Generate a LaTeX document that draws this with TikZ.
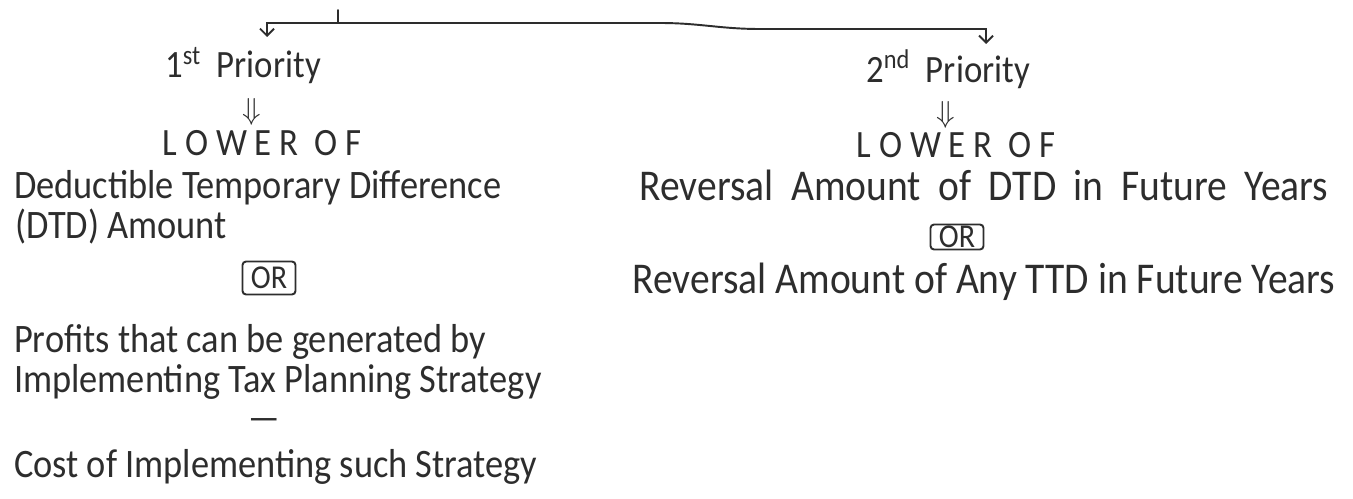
\documentclass[tikz,border=0pt]{standalone}
\usepackage{fontspec}
\setmainfont[FakeStretch=0.9]{Carlito}
\usepackage{tikz}
\usetikzlibrary{arrows.meta,positioning,calc}
\usepackage{xcolor}
\definecolor{penink}{RGB}{45,45,45}

\begin{document}
\begin{tikzpicture}[
    every node/.style={font=\fontsize{22}{24}\selectfont, text=penink, inner sep=1pt},
    lefttext/.style={anchor=base west, font=\fontsize{23}{25}\selectfont},
    revtext/.style={anchor=base, font=\fontsize{25}{27}\selectfont},
    pen/.style={draw=penink, line width=1.1pt, line cap=round},
    arr/.style={pen, -{Straight Barb[length=4pt,width=8pt]}},
    orbox/.style={draw=penink, line width=1.1pt, rounded corners=2pt,
      font=\fontsize{19}{19}\selectfont, minimum width=1.06cm, minimum height=0.66cm, inner sep=0pt},
    dnarrow/.style={font=\fontsize{17}{17}\selectfont}
  ]
  \useasboundingbox (0,0) rectangle (27.06,-9.96);

  % split at the top
  \coordinate (stub) at (6.76,-0.2);
  \coordinate (fork) at (6.76,-0.46);
  \coordinate (tipL) at (5.34,-0.74);
  \coordinate (bendR) at (19.72,-0.58);
  \coordinate (tipR) at (19.72,-0.88);
  \draw[pen] (stub) -- (fork);
  \draw[arr] (fork) -| (tipL);
  \draw[arr] (fork) -- (13.2,-0.46)
    .. controls (14.0,-0.46) and (14.4,-0.58) .. (15.2,-0.58) -- (bendR) -- (tipR);

  % first priority
  \node[anchor=base] (prio1) at (4.86,-1.56) {1\textsuperscript{st}\ \ Priority};
  \node[dnarrow] (dn1) at (5.04,-2.24) {$\Downarrow$};
  \node[anchor=base] (low1) at (5.24,-3.10) {L O W E R\ \ O F};
  \node[lefttext] (ded1) at (0.24,-3.96) {Deductible Temporary Difference};
  \node[lefttext] (ded2) at (0.26,-4.76) {(DTD) Amount};
  \node[orbox] (or1) at (5.38,-5.56) {OR};
  \node[lefttext] (prof1) at (0.24,-7.04) {Profits that can be generated by};
  \node[lefttext] (prof2) at (0.24,-7.84) {Implementing Tax Planning Strategy};
  \node (minus) at (5.28,-8.5) {—};
  \node[lefttext] (cost) at (0.24,-9.54) {Cost of Implementing such Strategy};

  % second priority
  \node[anchor=base] (prio2) at (18.96,-1.64) {2\textsuperscript{nd}\ \ Priority};
  \node[dnarrow] (dn2) at (18.92,-2.3) {$\Downarrow$};
  \node[anchor=base] (low2) at (19.12,-3.14) {L O W E R\ \ O F};
  \node[revtext] (rev1) at (19.68,-4.0)
    {\spaceskip=0.4em Reversal Amount of DTD in Future Years};
  \node[orbox, minimum height=0.5cm] (or2) at (19.14,-4.74) {OR};
  \node[revtext] (rev2) at (19.68,-5.86)
    {Reversal Amount of Any TTD in Future Years};
\end{tikzpicture}
\end{document}
